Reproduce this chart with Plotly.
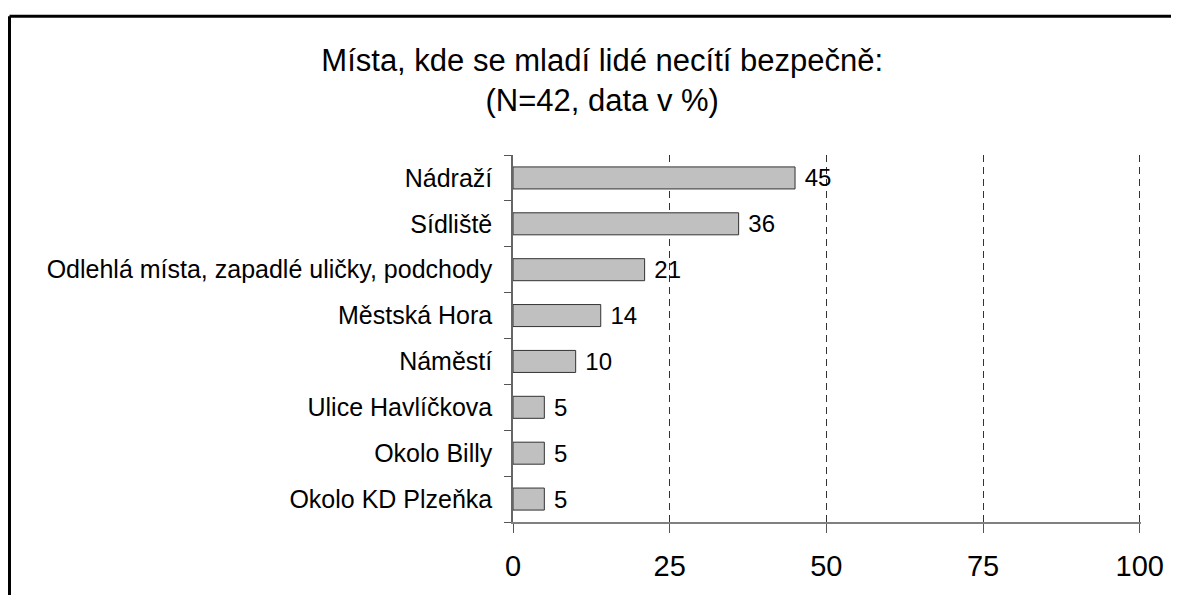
import plotly.graph_objects as go

categories = ["Nádraží", "Sídliště", "Odlehlá místa, zapadlé uličky, podchody",
              "Městská Hora", "Náměstí", "Ulice Havlíčkova", "Okolo Billy", "Okolo KD Plzeňka"]
values = [45, 36, 21, 14, 10, 5, 5, 5]
x_ticks = [0, 25, 50, 75, 100]
title_text = "Místa, kde se mladí lidé necítí bezpečně:<br>(N=42, data v %)"

W, H = 1179, 595
L, R, T, B = 505, 46, 147, 81
PW, PH = W - L - R, H - T - B

fig = go.Figure()
fig.add_trace(go.Bar(
    x=values, y=categories, orientation="h",
    marker=dict(color="#c0c0c0", line=dict(color="#333333", width=1)),
    width=0.48,
    text=[" " + str(v) for v in values], textposition="outside", cliponaxis=False,
    constraintext="none",
    textfont=dict(family="Liberation Sans, Arial", size=24, color="black"),
    hoverinfo="skip",
))

fig.update_layout(
    width=W, height=H,
    margin=dict(l=L, r=R, t=T, b=B, pad=0),
    paper_bgcolor="white", plot_bgcolor="white",
    font=dict(family="Liberation Sans, Arial", color="black"),
    showlegend=False,
    title=dict(text=title_text, xref="container", x=0.504, xanchor="center",
               yref="container", y=1 - 63 / H, yanchor="middle",
               font=dict(size=31, color="black")),
    xaxis=dict(range=[0, 100.2], tickvals=x_ticks, ticktext=[str(v) for v in x_ticks],
               showline=True, linecolor="#808080", linewidth=1.5,
               ticks="outside", ticklen=9, tickcolor="#555555", tickwidth=1,
               showgrid=True, gridcolor="#333333", gridwidth=1, griddash="7px,5px",
               zeroline=False, tickfont=dict(size=29), ticklabelstandoff=8,
               fixedrange=True),
    yaxis=dict(categoryorder="array", categoryarray=categories[::-1],
               autorange=False, range=[-0.5, len(categories) - 0.5],
               showline=True, linecolor="#666666", linewidth=1.5,
               ticks="outside", ticklen=7, tickcolor="#555555", tickwidth=1,
               tickson="boundaries", showgrid=False,
               tickfont=dict(size=25), ticklabelstandoff=14, fixedrange=True),
)

# frame: left and top border lines of the chart area
fx = (1.5 - L) / PW
fy = 1 + (T - 8.3) / PH
fig.add_shape(type="line", xref="paper", yref="paper",
              x0=fx, x1=(W + 20 - L) / PW, y0=fy, y1=fy,
              line=dict(color="black", width=3))
fig.add_shape(type="line", xref="paper", yref="paper",
              x0=fx, x1=fx, y0=fy, y1=-(B + 20) / PH,
              line=dict(color="black", width=3))

fig.write_html("out.html")
